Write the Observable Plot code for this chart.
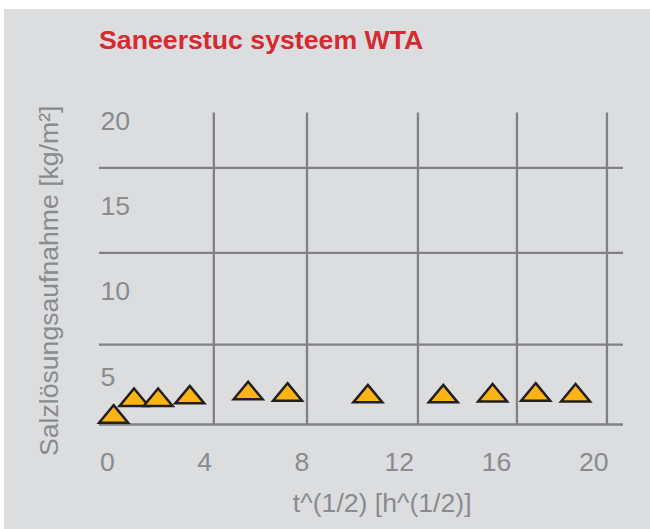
<!DOCTYPE html>
<html><head><meta charset="utf-8">
<script src="https://cdn.jsdelivr.net/npm/d3@7"></script>
<script src="https://cdn.jsdelivr.net/npm/@observablehq/plot@0.6"></script>
<style>
html,body{margin:0;padding:0;background:#fff;}
#wrap{position:absolute;left:4px;top:9px;width:646px;height:520px;background:#dcdddf;overflow:hidden;}
#title{position:absolute;left:95px;top:17.5px;font:bold 26.7px "Liberation Sans",Arial,sans-serif;color:#d42a30;line-height:26px;white-space:nowrap;}
#chart{position:absolute;left:0;top:0;}
</style></head><body>
<div id="wrap"><div id="title"></div><div id="chart"></div></div>
<script>
const title = "Saneerstuc systeem WTA";
const xLabel = "t^(1/2) [h^(1/2)]";
const yLabel = "Salzlösungsaufnahme [kg/m²]";
const xTicks = [0, 4, 8, 12, 16, 20];
const yTicks = [5, 10, 15, 20];
const sqrtT  = [0.26, 1.10, 2.09, 3.39, 5.79, 7.41, 10.71, 13.81, 15.84, 17.61, 19.25];
const uptake = [2.85, 3.83, 3.83, 3.98, 4.22, 4.14, 4.04, 4.04, 4.09, 4.14, 4.09];
// grid lines as drawn in the source figure
const gridX = [4.38, 8.21, 12.77, 16.84, 20.54];
const gridY = [2.23, 6.91, 12.28, 17.26];
const xDomain = [-0.32, 21.22];
const yDomain = [2.23, 20.47];

document.getElementById("title").textContent = title;

const labelColor = "#8a8b8d";
const gridColor = "#808184";
const font = '"Liberation Sans", Arial, sans-serif';
const fs = 26.6;

const flatTriangle = {
  draw(ctx) {
    const w = 14.5, h = 17.5;
    ctx.moveTo(0, -h / 2);
    ctx.lineTo(w, h / 2);
    ctx.lineTo(-w, h / 2);
    ctx.closePath();
  }
};

const data = sqrtT.map((x, i) => ({x, y: uptake[i]}));

const plot = Plot.plot({
  width: 646, height: 520,
  marginLeft: 95, marginRight: 27, marginTop: 103.5, marginBottom: 105,
  style: {background: "transparent", fontFamily: font, fontSize: fs + "px", color: labelColor},
  x: {domain: xDomain},
  y: {domain: yDomain},
  marks: [
    Plot.ruleX(gridX, {stroke: gridColor, strokeWidth: 2.3}),
    Plot.ruleY(gridY, {stroke: gridColor, strokeWidth: 2.3}),
    Plot.axisX({ticks: xTicks, tickSize: 0, tickPadding: 28, label: null, fill: labelColor, fontSize: fs}),
    Plot.axisY({ticks: yTicks, anchor: "left", tickSize: 0, tickPadding: -1, textAnchor: "start",
      label: null, fill: labelColor, fontSize: fs}),
    Plot.text([yLabel], {frameAnchor: "left", rotate: -90, lineAnchor: "top", textAnchor: "middle",
      dx: -60, dy: 12, fontSize: fs, fill: labelColor}),
    Plot.text([xLabel], {frameAnchor: "bottom", lineAnchor: "top", dx: 20.7, dy: 69, fontSize: fs, fill: labelColor}),
    Plot.dot(data, {x: "x", y: "y", symbol: flatTriangle, r: 5, fill: "#fcb415", stroke: "#231f20", strokeWidth: 2.5})
  ]
});
document.getElementById("chart").appendChild(plot);
</script>
</body></html>
